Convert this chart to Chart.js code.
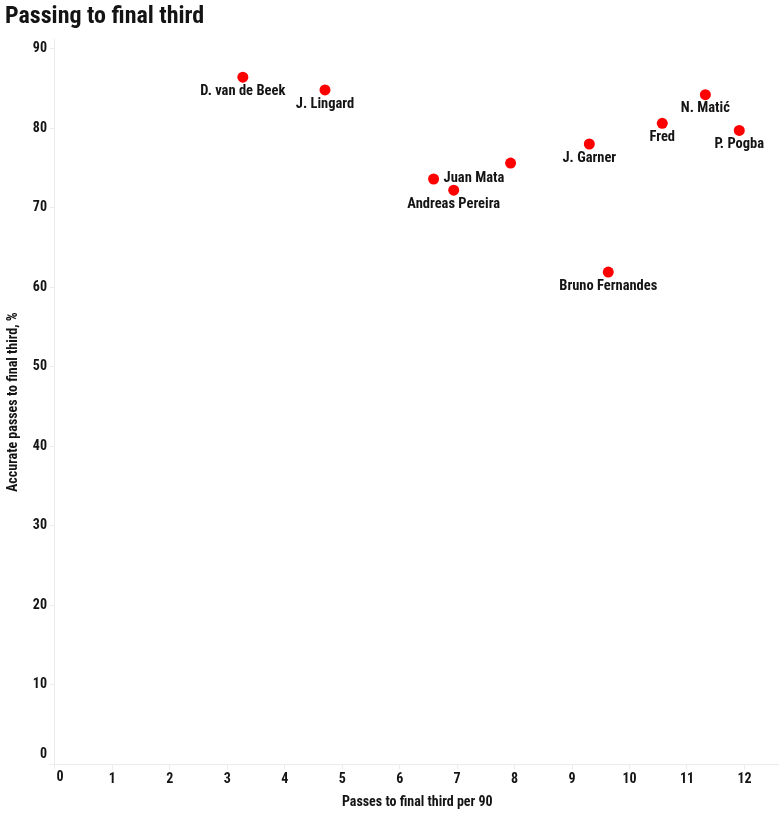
<!DOCTYPE html>
<html>
<head>
<meta charset="utf-8">
<script src="https://cdn.jsdelivr.net/npm/chart.js@4/dist/chart.umd.min.js"></script>
<style>
  html, body { margin: 0; padding: 0; background: #fff; overflow: hidden; }
  #wrap { width: 785px; height: 816px; position: relative; }
  #chart { display: block; }
</style>
</head>
<body>
<div id="wrap"><canvas id="chart"></canvas></div>
<script>
'use strict';

const players = ['D. van de Beek', 'J. Lingard', 'Juan Mata', 'Andreas Pereira', '', 'J. Garner', 'Bruno Fernandes', 'Fred', 'N. Matić', 'P. Pogba'];
const passesPer90 = [3.27, 4.70, 6.59, 6.94, 7.93, 9.30, 9.63, 10.57, 11.32, 11.91];
const accuracyPct = [86.4, 84.8, 73.6, 72.2, 75.6, 78.0, 61.9, 80.6, 84.2, 79.7];
const labelSide = ['below', 'below', 'right', 'below', 'below', 'below', 'below', 'below', 'below', 'below'];

const xTicks = [0, 1, 2, 3, 4, 5, 6, 7, 8, 9, 10, 11, 12];
const yTicks = [0, 10, 20, 30, 40, 50, 60, 70, 80, 90];

const FONT = '"Roboto Condensed", "DejaVu Sans Condensed", sans-serif';
const INK = '#141414';
const AXIS_GREY = '#ececec';
const TICK_FONT = { family: FONT, size: 14, weight: 'bold' };

// player names next to the dots
const pointLabels = {
    id: 'pointLabels',
    afterDatasetsDraw(chart) {
        const ctx = chart.ctx;
        const meta = chart.getDatasetMeta(0);
        ctx.save();
        ctx.font = 'bold 14.5px ' + FONT;
        ctx.fillStyle = INK;
        ctx.textBaseline = 'middle';
        meta.data.forEach((pt, i) => {
            const name = players[i];
            if (!name) return;
            if (labelSide[i] === 'right') {
                ctx.textAlign = 'left';
                ctx.fillText(name, pt.x + 10, pt.y - 1);
            } else {
                ctx.textAlign = 'center';
                ctx.fillText(name, pt.x, pt.y + 14);
            }
        });
        ctx.restore();
    }
};

// the two "0" tick labels are nudged away from the corner
const originLabels = {
    id: 'originLabels',
    afterDraw(chart) {
        const ctx = chart.ctx;
        const xs = chart.scales.x, ys = chart.scales.y;
        const x0 = xs.getPixelForValue(0), y0 = ys.getPixelForValue(0);
        ctx.save();
        ctx.font = 'bold 14px ' + FONT;
        ctx.fillStyle = INK;
        ctx.textBaseline = 'middle';
        ctx.textAlign = 'center';
        ctx.fillText('0', x0 + 5, xs.top + 13);
        ctx.textAlign = 'right';
        ctx.fillText('0', ys.right - 8, y0 - 10);
        ctx.restore();
    }
};

window.addEventListener('load', () => {
    const config = {
        type: 'scatter',
        data: {
            datasets: [{
                label: 'Players',
                data: passesPer90.map((x, i) => ({ x: x, y: accuracyPct[i] })),
                backgroundColor: '#ff0000',
                borderWidth: 0,
                pointRadius: 5.5,
                pointHoverRadius: 5.5,
            }]
        },
        options: {
            responsive: true,
            maintainAspectRatio: false,
            animation: false,
            layout: { padding: { left: 5, right: 0, top: 0, bottom: 5 } },
            plugins: {
                legend: { display: false },
                tooltip: { enabled: false },
                title: {
                    display: true,
                    text: 'Passing to final third',
                    align: 'start',
                    color: INK,
                    font: { family: FONT, size: 24, weight: 'bold' },
                    padding: { top: 3, bottom: 8 },
                },
            },
            scales: {
                x: {
                    type: 'linear',
                    min: 0,
                    max: 12.61,
                    afterBuildTicks: (scale) => {
                        scale.ticks = xTicks.map(v => ({ value: v }));
                    },
                    grid: { drawOnChartArea: false, color: AXIS_GREY, tickLength: 5 },
                    border: { color: AXIS_GREY },
                    ticks: {
                        color: INK,
                        font: TICK_FONT,
                        padding: 2,
                        callback: (v) => (v === 0 ? '' : String(v)),
                    },
                    title: {
                        display: true,
                        text: 'Passes to final third per 90',
                        color: INK,
                        font: { family: FONT, size: 14, weight: 'bold' },
                        padding: { top: 4, bottom: 0 },
                    },
                },
                y: {
                    type: 'linear',
                    min: 0,
                    max: 91.1,
                    afterBuildTicks: (scale) => {
                        scale.ticks = yTicks.map(v => ({ value: v }));
                    },
                    grid: { drawOnChartArea: false, color: AXIS_GREY, tickLength: 5 },
                    border: { color: AXIS_GREY },
                    ticks: {
                        color: INK,
                        font: TICK_FONT,
                        padding: 3,
                        callback: (v) => (v === 0 ? '' : String(v)),
                    },
                    title: {
                        display: true,
                        text: 'Accurate passes to final third, %',
                        color: INK,
                        font: { family: FONT, size: 14, weight: 'bold' },
                        padding: { top: 0, bottom: 8 },
                    },
                },
            },
        },
        plugins: [pointLabels, originLabels],
    };
    new Chart(document.getElementById('chart'), config);
});
</script>
</body>
</html>
